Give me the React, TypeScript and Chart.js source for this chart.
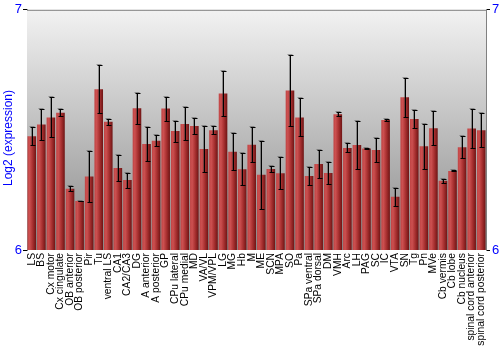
import React, { useEffect, useRef } from "react";
import { Chart, registerables } from "chart.js";

Chart.register(...registerables);

const categories = [
  "LS", "BS", "Cx motor", "Cx cingulate", "OB anterior", "OB posterior", "Pir", "Tu",
  "ventral LS", "CA1", "CA2/CA3", "DG", "A anterior", "A posterior", "GP", "CPu lateral",
  "CPu medial", "MD", "VA/VL", "VPM/VPL", "LG", "MG", "Hb", "M", "ME", "SCN", "MPA", "SO",
  "Pa", "SPa ventral", "SPa dorsal", "DM", "VMH", "Arc", "LH", "PAG", "SC", "IC", "VTA",
  "SN", "Tg", "Pn", "MVe", "Cb vermis", "Cb lobe", "Cb nucleus", "spinal cord anterior",
  "spinal cord posterior",
];

const meanValues = [
  6.474, 6.523, 6.552, 6.571, 6.255, 6.204, 6.306, 6.669,
  6.534, 6.341, 6.291, 6.590, 6.441, 6.455, 6.589, 6.495,
  6.525, 6.516, 6.421, 6.499, 6.652, 6.409, 6.336, 6.438, 6.313, 6.337, 6.320, 6.664,
  6.552, 6.308, 6.358, 6.321, 6.565, 6.425, 6.437, 6.423, 6.416, 6.541, 6.222,
  6.636, 6.545, 6.432, 6.507, 6.288, 6.329, 6.428, 6.506,
  6.499,
];

const errorValues = [
  0.038, 0.063, 0.083, 0.015, 0.010, 0.002, 0.108, 0.100,
  0.012, 0.055, 0.031, 0.064, 0.070, 0.023, 0.050, 0.044,
  0.069, 0.035, 0.097, 0.017, 0.093, 0.078, 0.067, 0.072, 0.142, 0.012, 0.068, 0.148,
  0.079, 0.038, 0.058, 0.046, 0.008, 0.019, 0.098, 0.001, 0.049, 0.004, 0.037,
  0.081, 0.037, 0.093, 0.071, 0.008, 0.002, 0.045, 0.082,
  0.071,
];

const yMin = 6;
const yMax = 7;
const yAxisTitle = "Log2 (expression)";

const FONT = "'Liberation Sans', Arial, sans-serif";
const CAT_PCT = 0.9;

const bgPlugin = {
  id: "bgPlugin",
  beforeDatasetsDraw(chart: any) {
    const { ctx, chartArea } = chart;
    if (!chartArea) return;
    const { left, right, top, bottom } = chartArea;
    const g = ctx.createLinearGradient(0, top, 0, bottom);
    g.addColorStop(0, "#f2f2f2");
    g.addColorStop(1, "#8a8a8a");
    ctx.save();
    ctx.fillStyle = g;
    ctx.fillRect(left, top, right - left, bottom - top);
    ctx.strokeStyle = "#808080";
    ctx.lineWidth = 1;
    ctx.beginPath();
    ctx.moveTo(left, top + 0.5);
    ctx.lineTo(right, top + 0.5);
    ctx.stroke();
    ctx.restore();
  },
  afterDraw(chart: any) {
    const { ctx } = chart;
    ctx.save();
    ctx.translate(8.5, 138);
    ctx.rotate(-Math.PI / 2);
    ctx.fillStyle = "#0000ff";
    ctx.font = `12px ${FONT}`;
    ctx.textAlign = "center";
    ctx.textBaseline = "middle";
    ctx.fillText(yAxisTitle, 0, 0);
    ctx.restore();
  },
};

const errorBarPlugin = {
  id: "errorBarPlugin",
  afterDatasetsDraw(chart: any) {
    const { ctx } = chart;
    const meta = chart.getDatasetMeta(0);
    const yScale = chart.scales.y;
    ctx.save();
    meta.data.forEach((bar: any, i: number) => {
      const m = meanValues[i];
      const e = errorValues[i];
      const x = Math.round(bar.x) + 0.5;
      const yt = Math.round(yScale.getPixelForValue(m + e)) + 0.5;
      const yb = Math.round(yScale.getPixelForValue(m - e)) + 0.5;
      ctx.strokeStyle = "rgba(60,60,60,0.45)";
      ctx.lineWidth = 1;
      ctx.beginPath();
      ctx.moveTo(x - 1, yt);
      ctx.lineTo(x - 1, yb);
      ctx.moveTo(x - 3, yt - 1);
      ctx.lineTo(x + 2, yt - 1);
      ctx.stroke();
      ctx.strokeStyle = "#000";
      ctx.beginPath();
      ctx.moveTo(x, yt);
      ctx.lineTo(x, yb);
      ctx.moveTo(x - 2, yt);
      ctx.lineTo(x + 3, yt);
      ctx.moveTo(x - 2, yb);
      ctx.lineTo(x + 3, yb);
      ctx.stroke();
    });
    ctx.restore();
  },
};

export default function App() {
  const ref = useRef<HTMLCanvasElement | null>(null);

  useEffect(() => {
    if (!ref.current) return;
    const n = categories.length;
    const chart = new Chart(ref.current, {
      type: "bar",
      data: {
        labels: categories,
        datasets: [
          {
            data: meanValues,
            categoryPercentage: CAT_PCT,
            barPercentage: 1,
            borderWidth: 0,
            backgroundColor: (c: any) => {
              const ch = c.chart;
              const xs = ch.scales && ch.scales.x;
              if (!ch.chartArea || !xs || c.dataIndex === undefined) return "#b03030";
              const cx = xs.getPixelForValue(c.dataIndex);
              const w = (xs.width / n) * CAT_PCT;
              const g = ch.ctx.createLinearGradient(cx - w / 2, 0, cx + w / 2, 0);
              g.addColorStop(0, "#c04444");
              g.addColorStop(0.25, "#cc5050");
              g.addColorStop(0.6, "#a83030");
              g.addColorStop(1, "#6e1414");
              return g;
            },
          },
        ],
      },
      options: {
        responsive: false,
        animation: false,
        events: [],
        layout: { padding: { top: 9, left: 0, right: 0, bottom: 0 } },
        plugins: {
          legend: { display: false },
          tooltip: { enabled: false },
          title: { display: false },
        },
        scales: {
          x: {
            grid: { display: false, drawTicks: false },
            border: { display: false },
            ticks: {
              autoSkip: false,
              maxRotation: 90,
              minRotation: 90,
              padding: 3,
              color: "#000",
              font: { family: FONT, size: 10.3 },
            },
            afterFit: (s: any) => {
              s.height = 100;
            },
          },
          y: {
            position: "left",
            min: yMin,
            max: yMax,
            grid: { drawOnChartArea: false, drawTicks: true, tickLength: 4, color: "#000" },
            border: { display: true, color: "#808080" },
            ticks: {
              stepSize: 1,
              padding: 1,
              color: "#0000ff",
              font: { family: FONT, size: 13 },
            },
            afterFit: (s: any) => {
              s.width = 27;
            },
          },
          y2: {
            position: "right",
            display: true,
            min: yMin,
            max: yMax,
            grid: { drawOnChartArea: false, drawTicks: true, tickLength: 4, color: "#000" },
            border: { display: true, color: "#808080" },
            ticks: {
              stepSize: 1,
              padding: 2,
              color: "#0000ff",
              font: { family: FONT, size: 13 },
            },
            afterFit: (s: any) => {
              s.width = 14;
            },
          },
        },
      } as any,
      plugins: [bgPlugin, errorBarPlugin],
    });
    return () => chart.destroy();
  }, []);

  return (
    <div style={{ position: "fixed", left: 0, top: 0, width: 500, height: 350, background: "#fff" }}>
      <canvas ref={ref} width={500} height={350} style={{ display: "block", width: 500, height: 350 }} />
    </div>
  );
}
